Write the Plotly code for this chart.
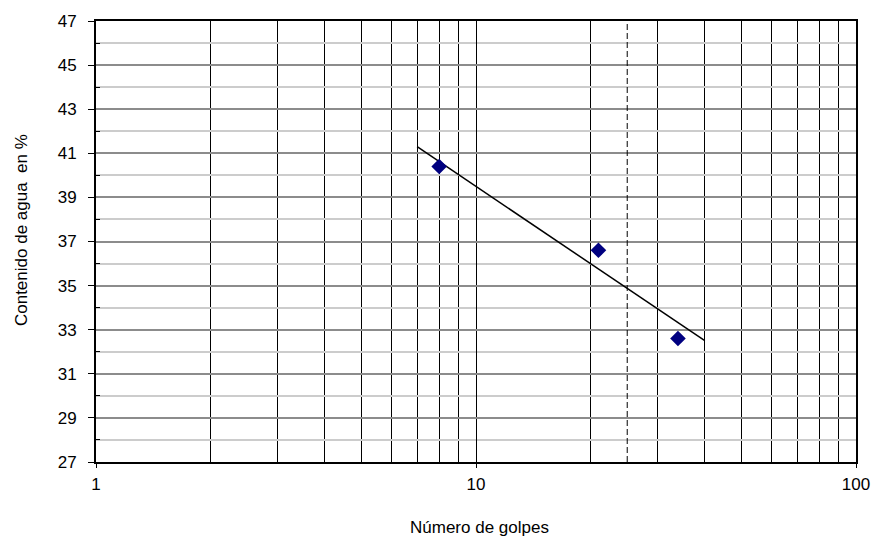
import plotly.graph_objects as go

golpes = [8, 21, 34]
humedad = [40.4, 36.6, 32.6]
trend_x = [7, 40]
trend_y = [41.3, 32.5]
ref_x = [25, 25]
ref_y = [27, 47]
x_ticks = [1, 10, 100]
x_minor = [2, 3, 4, 5, 6, 7, 8, 9, 20, 30, 40, 50, 60, 70, 80, 90]
y_ticks = [27, 29, 31, 33, 35, 37, 39, 41, 43, 45, 47]
y_minor = [28, 30, 32, 34, 36, 38, 40, 42, 44, 46]
x_title = "Número de golpes"
y_title = "Contenido de agua  en %"

fig = go.Figure()
fig.add_trace(go.Scatter(x=ref_x, y=ref_y, mode="lines",
                         line=dict(color="black", width=1, dash="6px,3px"),
                         showlegend=False, hoverinfo="skip"))
fig.add_trace(go.Scatter(x=trend_x, y=trend_y, mode="lines",
                         line=dict(color="black", width=1.5),
                         showlegend=False))
fig.add_trace(go.Scatter(x=golpes, y=humedad, mode="markers",
                         marker=dict(symbol="diamond", size=12, color="#000080"),
                         showlegend=False))

W, H = 882, 540
L, R, T, B = 96, 17, 15, 78
pw, ph = W - L - R, H - T - B

font = dict(family="Liberation Sans, Arial, sans-serif", size=17, color="black")
fig.update_layout(
    width=W, height=H,
    margin=dict(l=L, r=R, t=T, b=B),
    paper_bgcolor="white", plot_bgcolor="white",
    font=font,
    xaxis=dict(type="log", range=[0, 2], tickvals=x_ticks, ticktext=[str(v) for v in x_ticks],
               showgrid=True, gridcolor="black", gridwidth=1,
               ticks="outside", ticklen=4, tickcolor="black", ticklabelstandoff=2,
               showline=True, linecolor="black", linewidth=2, mirror=True,
               minor=dict(tickvals=x_minor, showgrid=True, gridcolor="black", gridwidth=1, ticks=""),
               zeroline=False),
    yaxis=dict(range=[27, 47], tickvals=y_ticks,
               showgrid=True, gridcolor="#8c8c8c", gridwidth=1.5,
               ticks="outside", ticklen=6, tickcolor="black", ticklabelstandoff=8,
               showline=True, linecolor="black", linewidth=2, mirror=True,
               minor=dict(tickvals=y_minor, showgrid=True, gridcolor="#cccccc", gridwidth=1.5,
                          ticks="inside", ticklen=4, tickcolor="black"),
               zeroline=False),
    annotations=[
        dict(text=x_title, xref="paper", yref="paper",
             x=(484 - L) / pw, y=(H - B - 528) / ph,
             xanchor="center", yanchor="middle", showarrow=False, font=dict(size=17)),
        dict(text=y_title, xref="paper", yref="paper", textangle=-90,
             x=(20 - L) / pw, y=(H - B - 227) / ph,
             xanchor="center", yanchor="middle", showarrow=False, font=dict(size=17)),
    ],
)
fig.write_html("out.html")
